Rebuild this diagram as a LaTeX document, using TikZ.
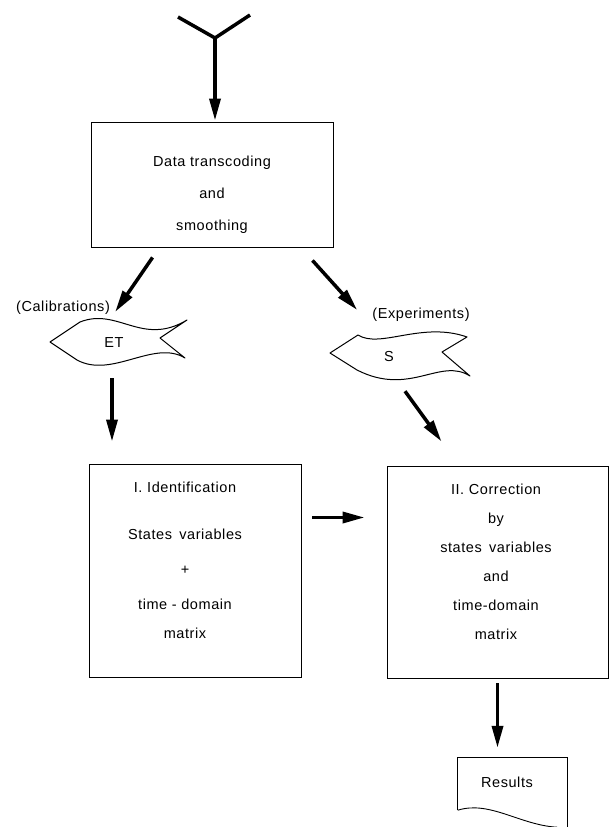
\documentclass[tikz,border=0pt]{standalone}
\usepackage{fontspec}
\setmainfont[LetterSpace=4]{Liberation Sans}
\usetikzlibrary{arrows.meta,positioning}

\begin{document}
\begin{tikzpicture}[
        x=1pt, y=-1pt,
        box/.style={draw, line width=0.9pt, inner sep=0pt},
        txt/.style={align=center, inner sep=0pt, font=\fontsize{14.5}{29}\selectfont},
        arr/.style={line width=3.5pt, -{Triangle[length=22pt,width=11pt]}},
        tape/.style={line width=1pt, line join=round}
      ]
      \useasboundingbox (0,0) rectangle (610,827);

      \coordinate (fork) at (215,38);
      \draw[line width=3.5pt, line join=round] (178,17) -- (fork) -- (250,15);

      \node[box, minimum width=242pt, minimum height=125pt] (data) at (212,184.5) {};
      \node[txt, font=\fontsize{14.5}{32}\selectfont] (datatext) at (212,195) {Data transcoding\\and\\smoothing};

      \node[txt] (cal) at (63,308) {(Calibrations)};
      \node[txt] (exp) at (421,315) {(Experiments)};

      \node[txt, minimum height=42pt] (et) at (114,343) {ET};
      \node[txt, minimum height=40pt] (s) at (389,357) {S};
      \begin{scope}[shift={(et.center)}]
        \draw[tape] (-34,-21) .. controls (4,-36) and (28,4) .. (73,-23)
          -- (46,-5) -- (71,15) .. controls (40,-4) and (-2,36) .. (-37,17)
          -- (-64,-1) -- cycle;
      \end{scope}
      \begin{scope}[shift={(s.center)}]
        \draw[tape] (-31,-22) .. controls (-9,-8) and (33,-36) .. (78,-20)
          -- (53,-5) -- (81,19) .. controls (51,0) and (21,40) .. (-32,13)
          -- (-59,-4) -- cycle;
      \end{scope}

      \node[box, minimum width=212pt, minimum height=213pt] (ident) at (195,570.5) {};
      \node[txt] (identtext) at (185,560) {I. Identification\\[18pt]States\enspace variables\\[6pt]+\\[6pt]time - domain\\matrix};

      \node[box, minimum width=221pt, minimum height=212pt] (corr) at (497.5,572) {};
      \node[txt] (corrtext) at (496,562) {II. Correction\\by\\states\enspace variables\\and\\time-domain\\matrix};

      \node[minimum width=109pt, minimum height=69pt, inner sep=0pt] (res) at (512.5,792.5) {};
      \node[txt] (restext) at (507,782) {Results};
      \draw[line width=0.9pt] ([yshift=17pt]res.south west) -- (res.north west) -- (res.north east) -- (res.south east);
      \draw[line width=0.9pt] ([yshift=17pt]res.south west) .. controls ([xshift=32pt,yshift=27pt]res.south west) and ([xshift=-47pt,yshift=2pt]res.south east) .. ([xshift=-10pt]res.south east);

      \draw[arr, shorten >=1pt] (fork) -- (fork |- data.north);
      \draw[arr] ([xshift=62pt,yshift=-10pt]data.south west) -- ([xshift=5pt,yshift=-4pt]cal.east);
      \draw[arr] ([xshift=-21pt,yshift=-13pt]data.south east) -- ([xshift=-15pt,yshift=5pt]exp.west);
      \draw[arr, shorten <=14pt, shorten >=22pt] ([xshift=-2pt]et.south) -- ([xshift=-2pt]et.south |- ident.north);
      \draw[arr] ([xshift=16pt,yshift=-14pt]s.south) -- ([xshift=55pt,yshift=24pt]corr.north west);
      \draw[arr, shorten <=11pt, shorten >=22pt] ([yshift=53pt]ident.east) -- ([yshift=53pt]ident.east -| corr.west);
      \draw[arr, shorten <=5pt, shorten >=10pt] (corr.south) -- (corr.south |- res.north);
\end{tikzpicture}
\end{document}
